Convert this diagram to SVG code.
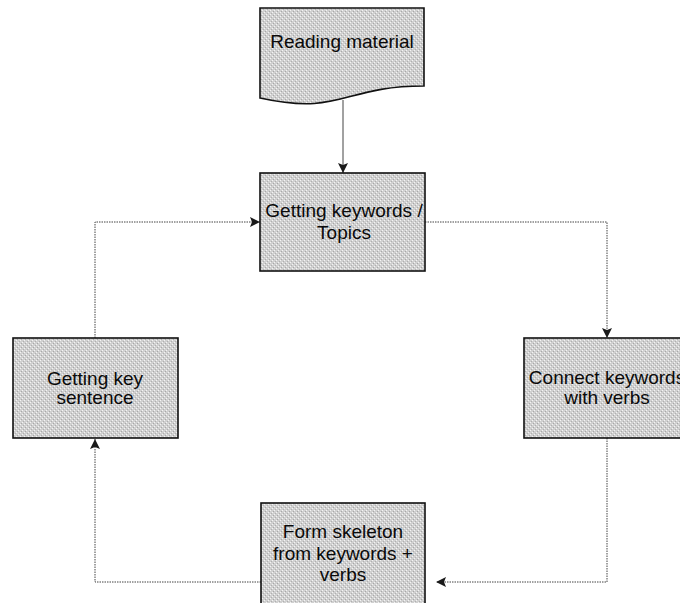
<svg xmlns="http://www.w3.org/2000/svg" width="680" height="603" viewBox="0 0 680 603">
  <style>
    .box { fill: url(#stipple); stroke: #111; stroke-width: 1.6; }
    .lbl { font-family: "Liberation Sans", Arial, sans-serif; font-size: 19px; fill: #0a0a0a; text-anchor: middle; }
    .link { fill: none; stroke: #444; stroke-width: 1; }
    .dotted { stroke-dasharray: 1.5 1; }
  </style>
  <defs>
    <!-- halftone grey fill used by every node -->
    <pattern id="stipple" width="4" height="4" patternUnits="userSpaceOnUse">
      <rect width="4" height="4" fill="#d0d0d0"/>
      <rect x="0" y="0" width="1" height="1" fill="#f4f4f4"/>
      <rect x="2" y="2" width="1" height="1" fill="#f4f4f4"/>
      <rect x="1" y="3" width="1" height="1" fill="#a8a8a8"/>
      <rect x="3" y="1" width="1" height="1" fill="#b0b0b0"/>
    </pattern>
    <marker id="arrow" viewBox="0 0 10 10" refX="10" refY="5" markerWidth="11" markerHeight="10" markerUnits="userSpaceOnUse" orient="auto">
      <path d="M0,0 L10,5 L0,10 L2,5 Z" fill="#1a1a1a"/>
    </marker>
  </defs>

  <g id="connectors">
    <path class="link" d="M343,100 V173" marker-end="url(#arrow)"/>
    <path class="link dotted" d="M425,222 H607 V338" marker-end="url(#arrow)"/>
    <path class="link dotted" d="M607,438 V582 H436" marker-end="url(#arrow)"/>
    <path class="link dotted" d="M261,582 H95 V439" marker-end="url(#arrow)"/>
    <path class="link dotted" d="M95,338 V222 H260" marker-end="url(#arrow)"/>
  </g>

  <g id="reading-material">
    <path class="box" d="M260,8 H424 V86 C342,86 342,116 260,98 Z"/>
    <text class="lbl" x="342" y="48">Reading material</text>
  </g>

  <g id="getting-keywords">
    <rect class="box" x="260" y="173" width="165" height="98"/>
    <text class="lbl" x="344" y="217">Getting keywords /</text>
    <text class="lbl" x="344" y="239">Topics</text>
  </g>

  <g id="connect-keywords">
    <rect class="box" x="524" y="338" width="166" height="100"/>
    <text class="lbl" x="607" y="384">Connect keywords</text>
    <text class="lbl" x="607" y="404">with verbs</text>
  </g>

  <g id="form-skeleton">
    <rect class="box" x="261" y="503" width="164" height="110"/>
    <text class="lbl" x="343" y="538">Form skeleton</text>
    <text class="lbl" x="343" y="560">from keywords +</text>
    <text class="lbl" x="343" y="581">verbs</text>
  </g>

  <g id="getting-key-sentence">
    <rect class="box" x="13" y="338" width="165" height="100"/>
    <text class="lbl" x="95" y="385">Getting key</text>
    <text class="lbl" x="95" y="404">sentence</text>
  </g>
</svg>
